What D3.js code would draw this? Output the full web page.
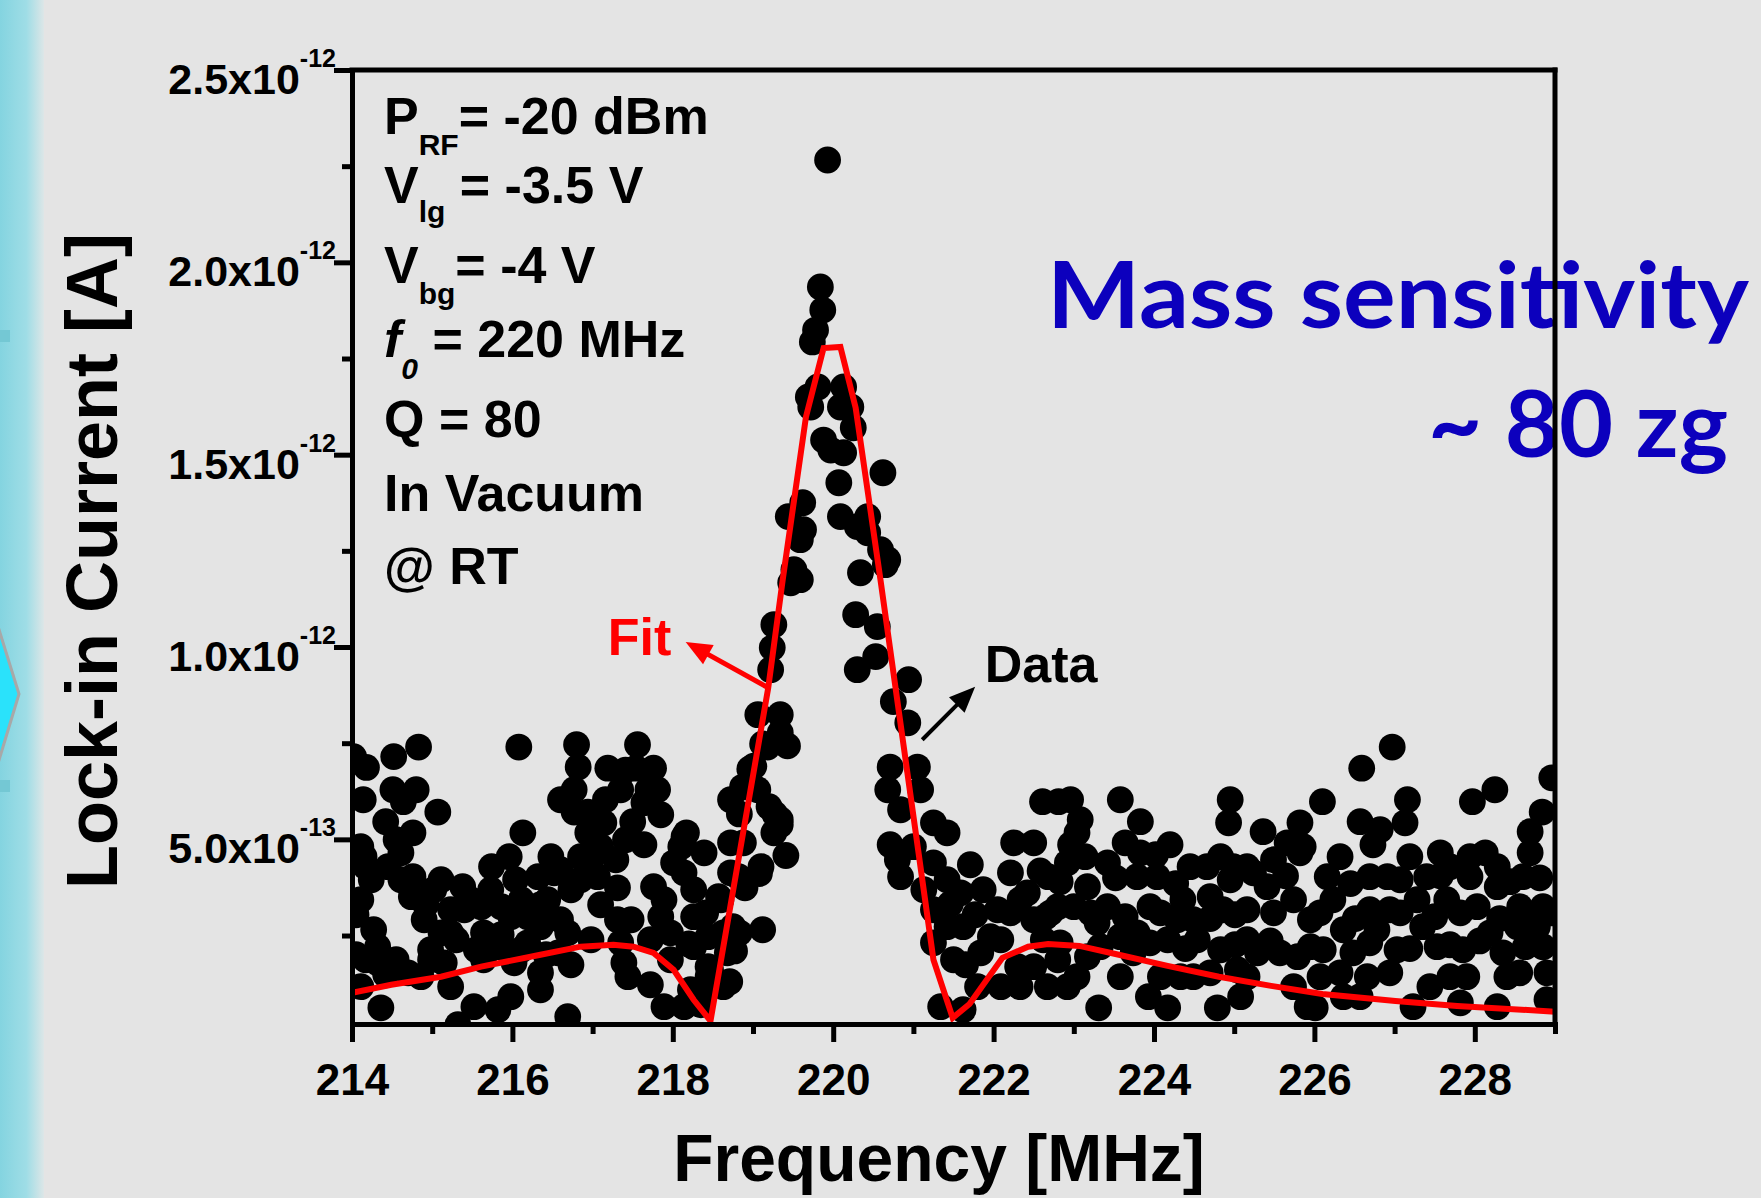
<!DOCTYPE html>
<html>
<head>
<meta charset="utf-8">
<title>Lock-in Current vs Frequency</title>
<script src="https://d3js.org/d3.v7.min.js"></script>
<style>
  body { margin: 0; background: #e4e4e4; }
  svg { display: block; }
  text { font-family: "Liberation Sans", Arial, sans-serif; font-weight: bold; }
</style>
</head>
<body>
<script>
// Current values are in units of 1e-12 A, frequencies in MHz

// Fitted curve
var fitFreq = [214.00, 214.49, 215.11, 215.61, 216.35, 216.85, 217.26, 217.51, 217.76, 218.01, 218.26, 218.47,
  219.19, 219.37, 219.66, 219.88, 220.09, 220.28, 220.59, 221.25, 221.49, 221.70, 222.11, 222.43, 222.68,
  223.07, 223.52, 224.17, 224.81, 225.46, 226.10, 227.01, 227.78, 229.00];
var fitCurrent = [0.101, 0.122, 0.143, 0.169, 0.200, 0.221, 0.226, 0.221, 0.205, 0.161, 0.083, 0.028,
  0.894, 1.174, 1.598, 1.777, 1.780, 1.622, 1.174, 0.187, 0.036, 0.072, 0.192, 0.221, 0.228,
  0.223, 0.202, 0.171, 0.143, 0.119, 0.098, 0.080, 0.067, 0.052];

// Measured points [frequency, current], below the resonance
var scatterLow = [
  [214.02,0.715],[214.18,0.687],[214.14,0.603],[214.11,0.481],[214.15,0.455],[214.17,0.429],[214.11,0.343],
  [214.27,0.265],[214.32,0.221],[214.32,0.179],[214.11,0.117],[214.36,0.062],[214.52,0.715],[214.83,0.740],
  [214.51,0.629],[214.80,0.629],[214.64,0.598],[215.07,0.571],[214.42,0.546],[214.76,0.517],[214.55,0.499],
  [214.61,0.465],[214.45,0.429],[214.76,0.403],[214.74,0.351],[215.02,0.369],[214.90,0.291],[215.11,0.257],
  [214.98,0.213],[214.70,0.153],[214.86,0.143],[215.15,0.179],[215.23,0.117],[215.38,0.377],[215.40,0.317],
  [215.23,0.257],[215.61,0.325],[215.74,0.429],[215.96,0.455],[216.13,0.517],[216.08,0.740],[215.52,0.065],
  [215.32,0.018],[215.64,0.257],[215.86,0.325],[215.98,0.299],[215.82,0.221],[215.64,0.187],[216.02,0.179],
  [215.98,0.091],[215.82,0.057],[216.19,0.299],[216.19,0.231],[216.32,0.403],[216.48,0.455],[216.52,0.413],
  [216.73,0.369],[216.44,0.343],[216.35,0.273],[216.60,0.291],[216.69,0.257],[216.57,0.205],[216.35,0.153],
  [216.35,0.109],[216.69,0.039],[216.80,0.746],[216.82,0.688],[217.19,0.685],[216.77,0.629],[216.77,0.571],
  [216.94,0.571],[217.14,0.543],[216.94,0.517],[217.10,0.481],[216.85,0.455],[217.06,0.403],[217.31,0.374],
  [217.35,0.629],[217.56,0.746],[217.54,0.685],[217.76,0.685],[217.69,0.629],[217.81,0.629],[217.64,0.595],
  [217.50,0.546],[217.64,0.486],[217.31,0.291],[217.48,0.291],[217.35,0.231],[217.39,0.179],[217.44,0.143],
  [217.76,0.377],[217.89,0.343],[217.85,0.299],[217.97,0.257],[217.97,0.187],[217.89,0.065],[218.14,0.507],
  [218.10,0.481],[218.39,0.465],[218.14,0.413],[218.26,0.369],[218.26,0.299],[218.26,0.221],[218.44,0.169],
  [218.44,0.143],[218.22,0.109],[218.14,0.065],[218.72,0.603],[218.72,0.491],[218.72,0.413],[218.60,0.343],
  [218.63,0.257],[218.63,0.117],[218.01,0.439],[218.17,0.517],[218.20,0.228],[218.83,0.566],[218.90,0.374],
  [218.83,0.257],[218.77,0.210],[218.71,0.130],[218.87,0.636],[218.88,0.491],[218.82,0.403],[218.57,0.351],
  [218.41,0.309],[218.75,0.273],[218.44,0.247],[218.68,0.205],[218.47,0.161],[218.39,0.109],
  [214.61,0.395],[214.92,0.330],[215.23,0.317],[215.48,0.343],[215.30,0.239],[215.55,0.213],[215.86,0.252],
  [216.11,0.343],[216.35,0.330],[216.11,0.213],[216.42,0.200],[216.73,0.174],[216.98,0.239],[217.10,0.330],
  [216.85,0.395],[216.98,0.447],[216.60,0.421],[217.29,0.447],[217.41,0.499],[217.16,0.603],[216.60,0.603],
  [217.41,0.680],[217.85,0.564],[217.72,0.239],[217.72,0.122],[218.35,0.070],[215.11,0.395],[215.73,0.369],
  [216.04,0.395],[214.98,0.187],[214.55,0.187],[214.24,0.395],[214.05,0.200],[214.42,0.148],[214.05,0.304],
  [214.17,0.187]
];

// Measured points around the resonance peak
var scatterPeak = [
  [219.06,0.824],[219.34,0.824],[219.12,0.748],[219.43,0.743],[218.96,0.683],[219.27,0.566],[219.34,0.538],
  [219.41,0.458],[219.08,0.411],[219.12,0.265],[219.51,1.201],[219.59,1.175],[219.47,1.167],[219.26,1.058],
  [219.24,0.998],[219.22,0.941],[219.34,0.777],[219.18,0.740],[219.01,0.690],[219.06,0.629],[219.20,0.585],
  [219.34,0.551],[219.26,0.517],[219.10,0.429],[219.93,2.266],[219.84,1.936],[219.87,1.876],[219.78,1.824],
  [219.74,1.793],[219.81,1.676],[219.69,1.650],[219.72,1.624],[220.13,1.676],[220.22,1.624],[220.09,1.624],
  [220.25,1.570],[219.88,1.538],[219.97,1.512],[220.13,1.505],[220.07,1.427],[220.62,1.453],[219.62,1.375],
  [219.44,1.339],[219.63,1.305],[219.59,1.279],[220.09,1.339],[220.30,1.313],[220.43,1.339],[220.43,1.297],
  [220.59,1.253],[220.68,1.227],[220.34,1.193],[220.65,1.214],[220.28,1.084],[220.55,1.053],[220.53,0.975],
  [220.30,0.941],[220.94,0.915],[220.75,0.858],[220.93,0.803],[220.71,0.688],[221.05,0.688],[220.68,0.629],
  [221.09,0.629],[220.84,0.577],[221.25,0.543],[221.42,0.517],[220.71,0.486],[221.00,0.481],[220.80,0.447],
  [220.84,0.403],[221.25,0.439],[221.42,0.395],[221.13,0.369],[221.71,0.434],[221.59,0.361],[221.25,0.317],
  [221.42,0.273],[221.25,0.231],[221.62,0.273],[221.50,0.187],[221.34,0.065],[221.62,0.057],[221.87,0.369],
  [222.05,0.317],[221.96,0.247],[221.84,0.205],[221.80,0.117],[222.09,0.117],[222.25,0.491],[222.50,0.491],
  [222.61,0.598],[222.81,0.598],[222.21,0.413],[222.42,0.361],[222.58,0.418],[222.21,0.309],[222.50,0.291],
  [222.71,0.309],[222.33,0.117],[222.67,0.117],[222.30,0.169],[222.50,0.169],[222.80,0.187],[222.62,0.239],
  [221.46,0.332],[221.77,0.304],[222.09,0.239],[222.33,0.343],[221.65,0.174]
];

// Measured points above the resonance
var scatterHigh = [
  [222.96,0.603],[223.58,0.603],[224.95,0.603],[224.93,0.543],[223.08,0.551],[223.83,0.546],[223.04,0.517],
  [222.96,0.486],[223.64,0.491],[224.20,0.486],[224.02,0.460],[224.45,0.429],[224.66,0.429],[224.99,0.429],
  [225.16,0.429],[225.36,0.520],[225.66,0.491],[225.82,0.543],[223.42,0.439],[222.92,0.439],[222.68,0.403],
  [223.17,0.377],[223.79,0.403],[224.04,0.403],[224.36,0.343],[224.70,0.351],[224.86,0.317],[225.24,0.413],
  [225.49,0.447],[225.41,0.377],[225.74,0.343],[222.80,0.325],[223.00,0.325],[223.42,0.325],[223.95,0.325],
  [224.29,0.291],[224.49,0.291],[225.16,0.317],[225.49,0.309],[223.29,0.283],[223.79,0.257],[223.58,0.247],
  [222.83,0.231],[223.17,0.195],[223.74,0.205],[224.17,0.239],[224.54,0.239],[224.83,0.213],[225.16,0.239],
  [225.29,0.205],[225.57,0.205],[225.79,0.195],[223.04,0.143],[222.92,0.117],[224.08,0.143],[224.33,0.143],
  [224.49,0.143],[225.04,0.161],[225.16,0.143],[225.74,0.117],[223.93,0.091],[225.08,0.091],[223.31,0.062],
  [224.17,0.062],[224.79,0.062],[225.91,0.065],[226.97,0.740],[226.59,0.685],[226.10,0.598],[227.16,0.603],
  [227.97,0.598],[228.25,0.629],[228.96,0.660],[226.57,0.546],[226.82,0.525],[227.13,0.543],[226.73,0.486],
  [225.86,0.481],[227.19,0.455],[228.84,0.571],[228.69,0.520],[227.69,0.429],[228.13,0.465],[228.28,0.429],
  [228.60,0.403],[227.94,0.403],[226.69,0.403],[226.91,0.403],[227.40,0.403],[226.16,0.403],[228.28,0.377],
  [226.23,0.343],[227.28,0.343],[227.65,0.343],[228.03,0.325],[226.69,0.317],[226.94,0.317],[228.56,0.325],
  [228.85,0.325],[225.95,0.291],[226.36,0.265],[226.78,0.265],[227.35,0.273],[228.19,0.257],[228.53,0.273],
  [228.78,0.273],[226.11,0.213],[226.48,0.205],[227.03,0.213],[227.53,0.221],[227.85,0.213],[228.35,0.205],
  [228.85,0.221],[226.32,0.153],[226.66,0.143],[227.44,0.117],[227.90,0.143],[228.40,0.143],[228.90,0.153],
  [226.36,0.091],[226.57,0.091],[226.01,0.062],[227.23,0.065],[227.82,0.075],[228.28,0.065],[228.90,0.083],
  [222.83,0.390],[223.52,0.400],[224.27,0.385],[224.95,0.395],[225.64,0.405],[226.45,0.385],[227.07,0.395],
  [227.57,0.405],[228.44,0.390],[228.81,0.400],[222.65,0.299],[223.21,0.309],[223.64,0.299],[224.08,0.309],
  [224.70,0.294],[225.01,0.304],[226.07,0.309],[226.51,0.294],[227.07,0.309],[227.50,0.299],[227.82,0.309],
  [228.31,0.294],[228.69,0.304],[228.94,0.309],[223.33,0.221],[223.95,0.231],[224.39,0.216],[225.01,0.226],
  [225.45,0.236],[225.95,0.221],[226.69,0.231],[227.19,0.216],[227.69,0.226],[228.06,0.236],[228.63,0.221],
  [223.14,0.455],[223.83,0.465],[224.83,0.455],[225.82,0.465],[226.32,0.455],[227.57,0.465],[227.94,0.455],
  [228.69,0.465],[223.58,0.143],[224.70,0.153],[226.07,0.143],[226.94,0.153],[227.69,0.143],[228.56,0.153]
];

// Tick values and labels
var xMajorTicks = [214, 216, 218, 220, 222, 224, 226, 228];
var xMinorTicks = [215, 217, 219, 221, 223, 225, 227, 229];
var yMajorTicks = [0.5, 1.0, 1.5, 2.0, 2.5];
var yMinorTicks = [0.25, 0.75, 1.25, 1.75, 2.25];
var yTickMantissa = ["5.0", "1.0", "1.5", "2.0", "2.5"];
var yTickExponent = ["-13", "-12", "-12", "-12", "-12"];

// Drawing area
var margin = { top: 70, right: 206, bottom: 174, left: 352 };
var width = 1761 - margin.left - margin.right;
var height = 1198 - margin.top - margin.bottom;

var svg = d3.select("body")
  .append("svg")
  .attr("width", 1761)
  .attr("height", 1198);

// Background and left decoration band
svg.append("rect").attr("width", 1761).attr("height", 1198).attr("fill", "#e4e4e4");

var grad = svg.append("defs").append("linearGradient").attr("id", "band");
grad.append("stop").attr("offset", "0%").attr("stop-color", "#84d4e0");
grad.append("stop").attr("offset", "60%").attr("stop-color", "#9fdde6");
grad.append("stop").attr("offset", "100%").attr("stop-color", "#dde6e7");
svg.append("rect").attr("width", 44).attr("height", 1198).attr("fill", "url(#band)");
svg.append("rect").attr("y", 330).attr("width", 10).attr("height", 12).attr("fill", "#74c8d4");
svg.append("rect").attr("y", 780).attr("width", 10).attr("height", 12).attr("fill", "#74c8d4");
svg.append("polygon")
  .attr("points", "-4,620 19,694 -4,770")
  .attr("fill", "#2ae2fb")
  .attr("stroke", "#a8a8a8")
  .attr("stroke-width", 3);

// Scales
var xScale = d3.scaleLinear().domain([214, 229]).range([0, width]);
var yScale = d3.scaleLinear().domain([0.02, 2.5]).range([height, 0]);

// Blue message, drawn before the frame so the right axis crosses it
svg.append("text")
  .attr("x", 1047).attr("y", 328)
  .attr("textLength", 702).attr("lengthAdjust", "spacingAndGlyphs")
  .style("font-family", "Lato, 'Open Sans', sans-serif")
  .style("font-size", "92px")
  .style("fill", "#0c00bd")
  .text("Mass sensitivity");
svg.append("text")
  .attr("x", 1428).attr("y", 457)
  .attr("textLength", 300).attr("lengthAdjust", "spacingAndGlyphs")
  .style("font-family", "Lato, 'Open Sans', sans-serif")
  .style("font-size", "92px")
  .style("fill", "#0c00bd")
  .text("~ 80 zg");

var g = svg.append("g").attr("transform", "translate(" + margin.left + "," + margin.top + ")");

g.append("clipPath").attr("id", "plotClip")
  .append("rect").attr("width", width).attr("height", height);

var plot = g.append("g").attr("clip-path", "url(#plotClip)");

// Scatter points
var allPoints = scatterLow.concat(scatterPeak, scatterHigh);
plot.selectAll("circle")
  .data(allPoints)
  .enter()
  .append("circle")
  .attr("cx", function (d) { return xScale(d[0]); })
  .attr("cy", function (d) { return yScale(d[1]); })
  .attr("r", 13.4)
  .attr("fill", "#000");

// Fit curve
var fitLine = d3.line()
  .x(function (d, i) { return xScale(fitFreq[i]); })
  .y(function (d, i) { return yScale(fitCurrent[i]); });
plot.append("path")
  .attr("d", fitLine(fitFreq))
  .attr("fill", "none")
  .attr("stroke", "#ff0000")
  .attr("stroke-width", 6);

// Axes: ticks only, labels drawn separately
function styleAxis(sel) {
  sel.selectAll("path, line").attr("stroke", "#000").attr("stroke-width", 5);
  sel.select(".domain").attr("stroke-linecap", "square");
}

g.append("g").attr("transform", "translate(0," + height + ")")
  .call(d3.axisBottom(xScale).tickValues(xMinorTicks).tickSize(10).tickSizeOuter(0).tickFormat(""))
  .call(styleAxis);
var xAxis = g.append("g").attr("transform", "translate(0," + height + ")")
  .call(d3.axisBottom(xScale).tickValues(xMajorTicks).tickSize(18).tickSizeOuter(0).tickPadding(22)
    .tickFormat(d3.format("d")))
  .call(styleAxis);
xAxis.selectAll("text")
  .style("font-size", "44px")
  .style("font-family", "'Liberation Sans', Arial, sans-serif")
  .style("font-weight", "bold")
  .attr("fill", "#000");

g.append("g")
  .call(d3.axisLeft(yScale).tickValues(yMinorTicks).tickSize(10).tickSizeOuter(0).tickFormat(""))
  .call(styleAxis);
g.append("g")
  .call(d3.axisLeft(yScale).tickValues(yMajorTicks).tickSize(18).tickSizeOuter(0).tickFormat(""))
  .call(styleAxis);

// Top and right frame
g.append("line").attr("x1", 0).attr("x2", width).attr("y1", 0).attr("y2", 0)
  .attr("stroke", "#000").attr("stroke-width", 5).attr("stroke-linecap", "square");
g.append("line").attr("x1", width).attr("x2", width).attr("y1", 0).attr("y2", height)
  .attr("stroke", "#000").attr("stroke-width", 5).attr("stroke-linecap", "square");

// Y tick labels with powers of ten
yMajorTicks.forEach(function (v, i) {
  var t = g.append("text")
    .attr("x", -16)
    .attr("y", yScale(v) + 24)
    .attr("text-anchor", "end")
    .style("font-size", "43px");
  t.append("tspan").text(yTickMantissa[i] + "x10");
  t.append("tspan").attr("dy", -27).style("font-size", "25px").text(yTickExponent[i]);
});

// Axis titles
svg.append("text")
  .attr("transform", "translate(117,561) rotate(-90)")
  .attr("text-anchor", "middle")
  .style("font-size", "72px")
  .text("Lock-in Current [A]");
svg.append("text")
  .attr("x", 939).attr("y", 1181)
  .attr("text-anchor", "middle")
  .style("font-size", "66px")
  .text("Frequency [MHz]");

// Measurement conditions
function textLine(y, parts) {
  var t = svg.append("text").attr("x", 384).attr("y", y).style("font-size", "52px");
  parts.forEach(function (p) {
    var s = t.append("tspan").text(p.t);
    if (p.sub) s.attr("dy", p.sub).style("font-size", "30px");
    if (p.back) s.attr("dy", p.back);
    if (p.it) s.style("font-style", "italic");
  });
}
textLine(134, [{ t: "P" }, { t: "RF", sub: 21 }, { t: "= -20 dBm", back: -21 }]);
textLine(203, [{ t: "V" }, { t: "lg", sub: 19 }, { t: " = -3.5 V", back: -19 }]);
textLine(283, [{ t: "V" }, { t: "bg", sub: 21 }, { t: "= -4 V", back: -21 }]);
textLine(357, [{ t: "f", it: true }, { t: "0", sub: 22, it: true }, { t: " = 220 MHz", back: -22 }]);
textLine(437, [{ t: "Q = 80" }]);
textLine(511, [{ t: "In Vacuum" }]);
textLine(584, [{ t: "@ RT" }]);

// Arrows pointing to the fit and the data
function arrow(f1, i1, f2, i2, color, w, headLen, headW) {
  var x1 = xScale(f1), y1 = yScale(i1), x2 = xScale(f2), y2 = yScale(i2);
  var a = Math.atan2(y2 - y1, x2 - x1);
  var bx = x2 - headLen * Math.cos(a), by = y2 - headLen * Math.sin(a);
  g.append("line")
    .attr("x1", x1).attr("y1", y1).attr("x2", bx + 2 * Math.cos(a)).attr("y2", by + 2 * Math.sin(a))
    .attr("stroke", color).attr("stroke-width", w);
  var px = -Math.sin(a) * headW / 2, py = Math.cos(a) * headW / 2;
  g.append("polygon")
    .attr("points", [[x2, y2], [bx + px, by + py], [bx - px, by - py]].map(function (p) { return p.join(","); }).join(" "))
    .attr("fill", color);
}
arrow(219.19, 0.894, 218.16, 1.013, "#ff0000", 5, 26, 22);
arrow(221.11, 0.759, 221.77, 0.897, "#000", 4, 26, 22);

g.append("text")
  .attr("x", xScale(217.19)).attr("y", yScale(0.980))
  .style("font-size", "52px").attr("fill", "#ff0000")
  .text("Fit");
g.append("text")
  .attr("x", xScale(221.89)).attr("y", yScale(0.909))
  .style("font-size", "52px").attr("fill", "#000")
  .text("Data");
</script>
</body>
</html>
